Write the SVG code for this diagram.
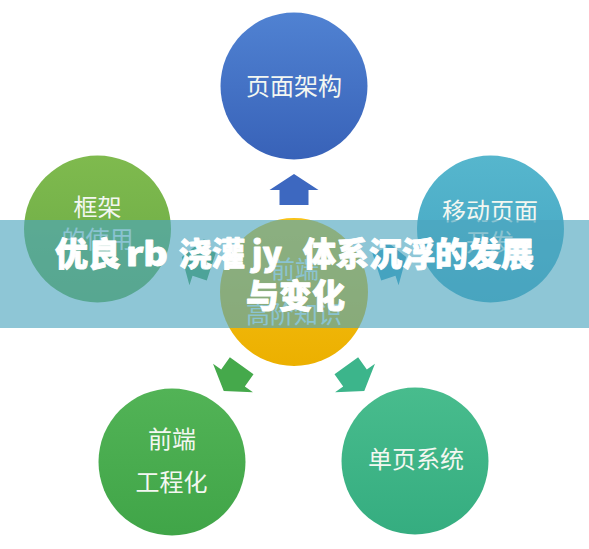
<svg xmlns="http://www.w3.org/2000/svg" width="589" height="549" viewBox="0 0 589 549">
<style>
.lbl{font-family:"Noto Sans CJK SC","Noto Sans",sans-serif;font-size:24px;fill:#f3f7f1;text-anchor:middle}
.ttl{font-family:"Noto Sans CJK SC","Noto Sans",sans-serif;font-size:33px;font-weight:900;fill:#ffffff;stroke:#ffffff;stroke-width:0.9;stroke-linejoin:round}
</style>
<defs>
<linearGradient id="gBlue" x1="0" y1="0" x2="0" y2="1"><stop offset="0" stop-color="#5082d2"/><stop offset="1" stop-color="#3862b8"/></linearGradient>
<linearGradient id="gLeft" x1="0" y1="0" x2="0" y2="1"><stop offset="0" stop-color="#7fba4e"/><stop offset="1" stop-color="#6aaa45"/></linearGradient>
<linearGradient id="gRight" x1="0" y1="0" x2="0" y2="1"><stop offset="0" stop-color="#56b6cd"/><stop offset="1" stop-color="#43a5c2"/></linearGradient>
<linearGradient id="gCenter" x1="0" y1="0" x2="0" y2="1"><stop offset="0" stop-color="#f7c219"/><stop offset="1" stop-color="#ecb000"/></linearGradient>
<linearGradient id="gBL" x1="0" y1="0" x2="0" y2="1"><stop offset="0" stop-color="#52b356"/><stop offset="1" stop-color="#40a548"/></linearGradient>
<linearGradient id="gBR" x1="0" y1="0" x2="0" y2="1"><stop offset="0" stop-color="#48bc8d"/><stop offset="1" stop-color="#35ad80"/></linearGradient>
<polygon id="arr" points="0,-16 24.5,0 14.5,0 14.5,15 -14.5,15 -14.5,0 -24.5,0"/>
</defs>
<rect width="589" height="549" fill="#ffffff"/>

<g id="node-top">
<circle cx="294" cy="86" r="73.5" fill="url(#gBlue)"/>
<text class="lbl" x="294" y="95">页面架构</text>
</g>
<g id="node-left">
<circle cx="97.5" cy="229" r="73.5" fill="url(#gLeft)"/>
<text class="lbl" x="97.5" y="216">框架</text>
<text class="lbl" x="97.5" y="248">的使用</text>
</g>
<g id="node-right">
<circle cx="490.5" cy="229" r="73.5" fill="url(#gRight)"/>
<text class="lbl" x="490" y="220">移动页面</text>
<text class="lbl" x="490" y="251">开发</text>
</g>
<g id="node-center">
<circle cx="294" cy="292" r="74" fill="url(#gCenter)"/>
<text class="lbl" x="295" y="278">前端</text>
<text class="lbl" x="294" y="323">高阶知识</text>
</g>
<g id="node-bottom-left">
<circle cx="172" cy="462" r="73.5" fill="url(#gBL)"/>
<text class="lbl" x="172" y="448">前端</text>
<text class="lbl" x="171.5" y="491">工程化</text>
</g>
<g id="node-bottom-right">
<circle cx="415" cy="461" r="73.5" fill="url(#gBR)"/>
<text class="lbl" x="416" y="468">单页系统</text>
</g>

<g id="connectors">
<use href="#arr" transform="translate(294,190)" fill="#3d68c0"/>
<use href="#arr" transform="translate(197,262) rotate(-72)" fill="#4f9f5a"/>
<use href="#arr" transform="translate(391,262) rotate(72)" fill="#3a9fc4"/>
<use href="#arr" transform="translate(233,378) rotate(-144.6)" fill="#45a94b"/>
<use href="#arr" transform="translate(355,378) rotate(144.6)" fill="#3cb58b"/>
</g>

<g id="banner">
<rect x="0" y="220" width="589" height="108" fill="#4ca5be" fill-opacity="0.63"/>
<text class="ttl" y="266"><tspan x="55">优良</tspan><tspan x="126" textLength="42" lengthAdjust="spacingAndGlyphs">rb</tspan><tspan x="179">浇灌</tspan><tspan x="252" textLength="30" lengthAdjust="spacingAndGlyphs">jy</tspan><tspan x="303">体系沉浮的发展</tspan></text>
<text class="ttl" x="295.5" y="308" text-anchor="middle">与变化</text>
</g>
</svg>
